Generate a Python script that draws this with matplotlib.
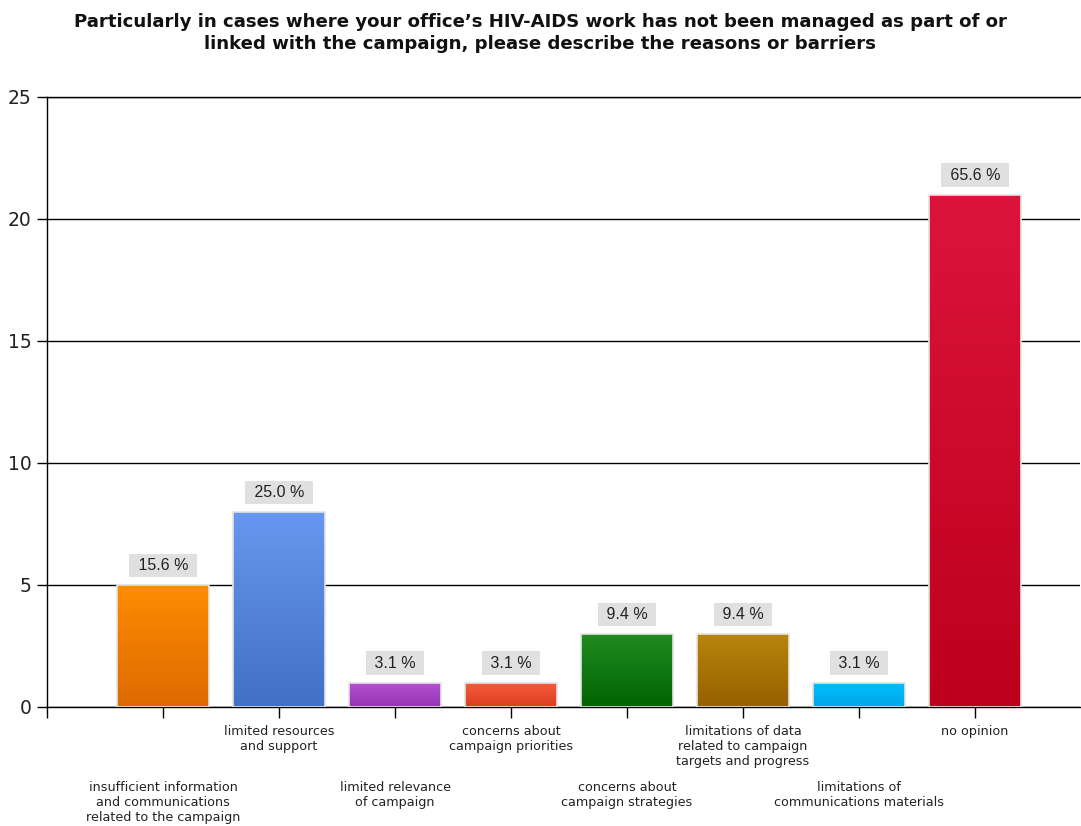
import numpy as np
import matplotlib
matplotlib.use("Agg")
import matplotlib.pyplot as plt
from matplotlib.colors import LinearSegmentedColormap

title = ("Particularly in cases where your office\u2019s HIV-AIDS work has not been managed as part of or\n"
         "linked with the campaign, please describe the reasons or barriers")

categories = [
    "insufficient information\nand communications\nrelated to the campaign",
    "limited resources\nand support",
    "limited relevance\nof campaign",
    "concerns about\ncampaign priorities",
    "concerns about\ncampaign strategies",
    "limitations of data\nrelated to campaign\ntargets and progress",
    "limitations of\ncommunications materials",
    "no opinion",
]
counts = [5, 8, 1, 1, 3, 3, 1, 21]
respondents = 32

top_colors = ["#ff8c00", "#6797ee", "#b552d4", "#f55d3e", "#238b22", "#b8860b", "#00bfff", "#dc143c"]
bottom_colors = ["#dd6a00", "#4270c6", "#9633b4", "#dc3e1e", "#006400", "#956000", "#00a6e6", "#bd001c"]

fig = plt.figure(figsize=(10.81, 8.26), dpi=100)
ax = fig.add_axes([47 / 1081, 119 / 826, 1033 / 1081, 610 / 826])

x = np.arange(len(categories))
bars = ax.bar(x, counts, width=0.785, facecolor="none", edgecolor="#e4e4e4",
              linewidth=1.2, zorder=3)

# vertical gradient fill for each bar, clipped to the bar rectangle
for bar, ctop, cbot in zip(bars, top_colors, bottom_colors):
    x0, y0 = bar.get_x(), bar.get_y()
    w, h = bar.get_width(), bar.get_height()
    cmap = LinearSegmentedColormap.from_list("g", [ctop, cbot])
    grad = np.linspace(0, 1, 256)[:, None]
    im = ax.imshow(grad, cmap=cmap, extent=(x0, x0 + w, y0, y0 + h),
                   origin="upper", aspect="auto", zorder=2)
    im.set_clip_path(bar)

for xi, c in zip(x, counts):
    pct = c / respondents * 100
    ax.annotate(f" {pct:.1f} % ", (xi, c), xytext=(0, 14), textcoords="offset points",
                ha="center", va="center", fontsize=11.5, family="Liberation Sans",
                color="#222222", zorder=4,
                bbox=dict(boxstyle="square,pad=0.27", fc="#e0e0e0", ec="none"))

ax.set_xlim(-1, 7.905)
ax.set_ylim(0, 25)

ax.set_yticks([0, 5, 10, 15, 20, 25])
ax.yaxis.grid(True, color="black", linewidth=1)
ax.set_axisbelow(True)
ax.tick_params(axis="y", length=7, width=1, pad=4, labelsize=13.5, labelcolor="#222222")

ax.set_xticks(np.arange(-1, len(categories)))
ax.set_xticklabels([""] + categories, fontsize=9.2, linespacing=1.2, color="#222222")
ax.tick_params(axis="x", length=8, width=1)
for i, tick in enumerate(ax.xaxis.get_major_ticks()[1:]):
    tick.set_pad(5 if i % 2 else 45)

ax.spines["right"].set_visible(False)
for side in ["left", "bottom", "top"]:
    ax.spines[side].set_color("black")
    ax.spines[side].set_linewidth(1)

fig.text(0.5, 1 - 33 / 826, title, ha="center", va="center", fontsize=13.1,
         fontweight="bold", family="DejaVu Sans", linespacing=1.3, color="#111111")

fig.savefig("out.png", dpi=100)
